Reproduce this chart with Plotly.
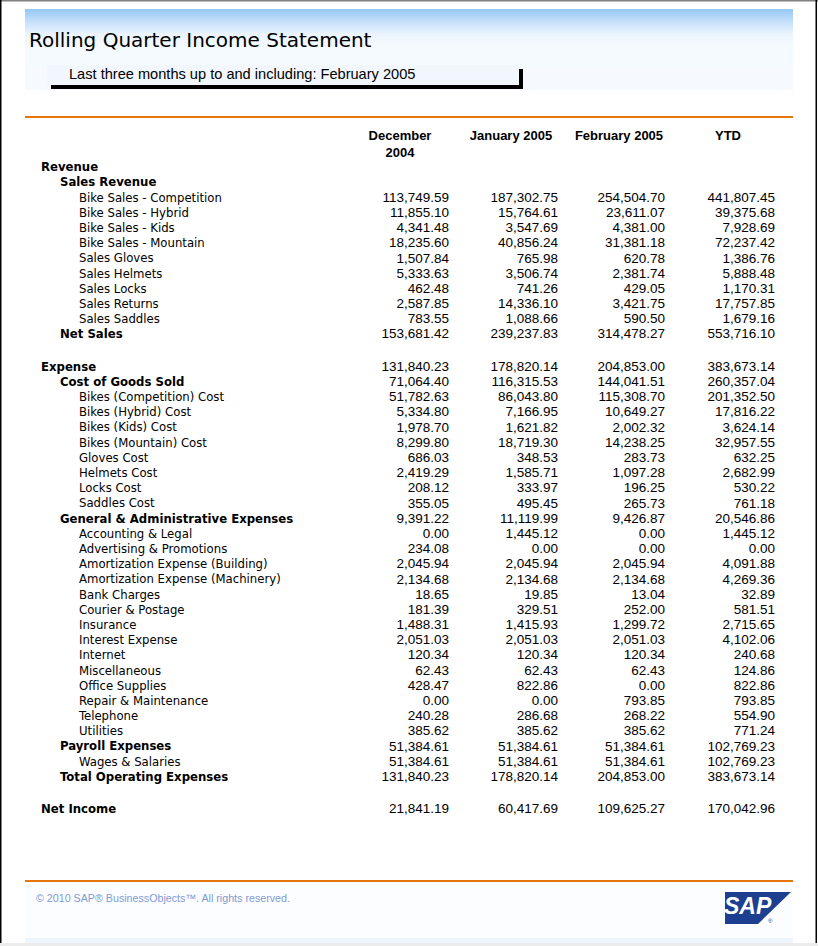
import plotly.graph_objects as go

# ---- report data ----
title = "Rolling Quarter Income Statement"
subtitle = "Last three months up to and including: February 2005"
footer = "© 2010 SAP® BusinessObjects™. All rights reserved."

columns = ["December<br>2004", "January 2005", "February 2005", "YTD"]

row_labels = [
    "Revenue", "Sales Revenue",
    "Bike Sales - Competition", "Bike Sales - Hybrid", "Bike Sales - Kids",
    "Bike Sales - Mountain", "Sales Gloves", "Sales Helmets", "Sales Locks",
    "Sales Returns", "Sales Saddles", "Net Sales",
    "",
    "Expense", "Cost of Goods Sold",
    "Bikes (Competition) Cost", "Bikes (Hybrid) Cost", "Bikes (Kids) Cost",
    "Bikes (Mountain) Cost", "Gloves Cost", "Helmets Cost", "Locks Cost",
    "Saddles Cost",
    "General & Administrative Expenses",
    "Accounting & Legal", "Advertising & Promotions",
    "Amortization Expense (Building)", "Amortization Expense (Machinery)",
    "Bank Charges", "Courier & Postage", "Insurance", "Interest Expense",
    "Internet", "Miscellaneous", "Office Supplies", "Repair & Maintenance",
    "Telephone", "Utilities",
    "Payroll Expenses", "Wages & Salaries", "Total Operating Expenses",
    "",
    "Net Income",
]
# 0 = section, 1 = group (bold), 2 = line item
row_levels = [
    0, 1, 2, 2, 2, 2, 2, 2, 2, 2, 2, 1,
    None,
    0, 1, 2, 2, 2, 2, 2, 2, 2, 2,
    1, 2, 2, 2, 2, 2, 2, 2, 2, 2, 2, 2, 2, 2, 2,
    1, 2, 1,
    None,
    0,
]

dec_2004 = [
    None, None,
    113749.59, 11855.10, 4341.48, 18235.60, 1507.84, 5333.63, 462.48,
    2587.85, 783.55, 153681.42,
    None,
    131840.23, 71064.40,
    51782.63, 5334.80, 1978.70, 8299.80, 686.03, 2419.29, 208.12, 355.05,
    9391.22,
    0.00, 234.08, 2045.94, 2134.68, 18.65, 181.39, 1488.31, 2051.03,
    120.34, 62.43, 428.47, 0.00, 240.28, 385.62,
    51384.61, 51384.61, 131840.23,
    None,
    21841.19,
]
jan_2005 = [
    None, None,
    187302.75, 15764.61, 3547.69, 40856.24, 765.98, 3506.74, 741.26,
    14336.10, 1088.66, 239237.83,
    None,
    178820.14, 116315.53,
    86043.80, 7166.95, 1621.82, 18719.30, 348.53, 1585.71, 333.97, 495.45,
    11119.99,
    1445.12, 0.00, 2045.94, 2134.68, 19.85, 329.51, 1415.93, 2051.03,
    120.34, 62.43, 822.86, 0.00, 286.68, 385.62,
    51384.61, 51384.61, 178820.14,
    None,
    60417.69,
]
feb_2005 = [
    None, None,
    254504.70, 23611.07, 4381.00, 31381.18, 620.78, 2381.74, 429.05,
    3421.75, 590.50, 314478.27,
    None,
    204853.00, 144041.51,
    115308.70, 10649.27, 2002.32, 14238.25, 283.73, 1097.28, 196.25, 265.73,
    9426.87,
    0.00, 0.00, 2045.94, 2134.68, 13.04, 252.00, 1299.72, 2051.03,
    120.34, 62.43, 0.00, 793.85, 268.22, 385.62,
    51384.61, 51384.61, 204853.00,
    None,
    109625.27,
]
ytd = [
    None, None,
    441807.45, 39375.68, 7928.69, 72237.42, 1386.76, 5888.48, 1170.31,
    17757.85, 1679.16, 553716.10,
    None,
    383673.14, 260357.04,
    201352.50, 17816.22, 3624.14, 32957.55, 632.25, 2682.99, 530.22, 761.18,
    20546.86,
    1445.12, 0.00, 4091.88, 4269.36, 32.89, 581.51, 2715.65, 4102.06,
    240.68, 124.86, 822.86, 793.85, 554.90, 771.24,
    102769.23, 102769.23, 383673.14,
    None,
    170042.96,
]

# ---- page geometry (pixels) ----
W, H = 818, 946
ROW_H = 15.19
first_row_y = 168
indent_x = {0: 41, 1: 60, 2: 79}
col_right = [449, 558, 665, 775]
col_center = [400, 511, 619, 728]

LABEL_FONT = "Tahoma, 'DejaVu Sans Condensed', 'DejaVu Sans', sans-serif"
TITLE_FONT = "'DejaVu Sans', sans-serif"
NUM_FONT = "Arial, 'Liberation Sans', sans-serif"

row_y = []
y = first_row_y
for lab in row_labels:
    row_y.append(y)
    y += ROW_H + (2 if lab == "" else 0)

fig = go.Figure()

# labels
for lvl in (0, 1, 2):
    idx = [i for i, l in enumerate(row_levels) if l == lvl]
    txt = [row_labels[i] for i in idx]
    if lvl < 2:
        txt = ["<b>" + t + "</b>" for t in txt]
    fig.add_trace(go.Scatter(
        x=[indent_x[lvl]] * len(idx), y=[row_y[i] for i in idx],
        mode="text", text=txt, textposition="middle right",
        textfont=dict(family=LABEL_FONT, size=13, color="#000000"),
        hoverinfo="skip", showlegend=False,
    ))

# numbers
for col, vals in enumerate([dec_2004, jan_2005, feb_2005, ytd]):
    idx = [i for i, v in enumerate(vals) if v is not None]
    fig.add_trace(go.Scatter(
        x=[col_right[col]] * len(idx), y=[row_y[i] for i in idx],
        mode="text", text=[f"{vals[i]:,.2f}" for i in idx],
        textposition="middle left",
        textfont=dict(family=NUM_FONT, size=13.5, color="#000000"),
        hoverinfo="skip", showlegend=False,
    ))

# column headers
fig.add_trace(go.Scatter(
    x=col_center, y=[130] * 4, mode="text",
    text=["<b>" + c + "</b>" for c in columns], textposition="bottom center",
    textfont=dict(family=NUM_FONT, size=13, color="#000000"),
    hoverinfo="skip", showlegend=False,
))

shapes = []
# page frame
shapes.append(dict(type="rect", x0=0, x1=W, y0=0, y1=1.5, fillcolor="#808080", line_width=0))
shapes.append(dict(type="rect", x0=0, x1=1.5, y0=0, y1=H, fillcolor="#000000", line_width=0))
shapes.append(dict(type="rect", x0=815.5, x1=817, y0=0, y1=H, fillcolor="#000000", line_width=0))

# header band gradient
stops = [(9, (152, 201, 248)), (22, (200, 226, 251)), (34, (236, 245, 254)),
         (46, (245, 250, 255)), (90, (247, 251, 255))]
for (ya, ca), (yb, cb) in zip(stops[:-1], stops[1:]):
    n = int(yb - ya)
    for k in range(n):
        t = k / max(n, 1)
        c = tuple(int(ca[j] + (cb[j] - ca[j]) * t) for j in range(3))
        shapes.append(dict(type="rect", x0=25, x1=793, y0=ya + k, y1=ya + k + 1.05,
                           fillcolor="rgb(%d,%d,%d)" % c, line_width=0, layer="below"))

# subtitle box with shadow
shapes.append(dict(type="rect", x0=47, x1=519, y0=65, y1=85, fillcolor="#f2f7fd", line_width=0, layer="below"))
shapes.append(dict(type="rect", x0=51, x1=523, y0=85, y1=89, fillcolor="#000000", line_width=0))
shapes.append(dict(type="rect", x0=519, x1=523, y0=69, y1=89, fillcolor="#000000", line_width=0))

# orange rules
shapes.append(dict(type="rect", x0=25, x1=793, y0=116, y1=118, fillcolor="#e5760b", line_width=0))
shapes.append(dict(type="rect", x0=25, x1=793, y0=880, y1=882, fillcolor="#e5760b", line_width=0))

# footer background
shapes.append(dict(type="rect", x0=25, x1=793, y0=882, y1=938, fillcolor="#fcfdff", line_width=0, layer="below"))
shapes.append(dict(type="rect", x0=25, x1=793, y0=938, y1=943, fillcolor="#eff5fc", line_width=0, layer="below"))
shapes.append(dict(type="rect", x0=0, x1=W, y0=943, y1=H, fillcolor="#ececec", line_width=0))

# SAP logo
shapes.append(dict(type="path", path="M 725 892 L 791 892 L 758 924 L 725 924 Z",
                   fillcolor="#1c3f90", line_width=0))

annotations = [
    dict(x=27, y=40, text=title, showarrow=False, xanchor="left", yanchor="middle",
         font=dict(family=TITLE_FONT, size=20, color="#000000")),
    dict(x=67, y=74, text=subtitle, showarrow=False, xanchor="left", yanchor="middle",
         font=dict(family=NUM_FONT, size=14.6, color="#000000")),
    dict(x=34, y=898, text=footer, showarrow=False, xanchor="left", yanchor="middle",
         font=dict(family=NUM_FONT, size=10.7, color="#7f9bd3")),
    dict(x=748, y=906, text="<b><i>SAP</i></b>", showarrow=False, xanchor="center", yanchor="middle",
         font=dict(family=NUM_FONT, size=23, color="#ffffff")),
    dict(x=770, y=921, text="®", showarrow=False, xanchor="center", yanchor="middle",
         font=dict(family=NUM_FONT, size=6, color="#1c3f90")),
]

fig.update_layout(
    width=W, height=H,
    margin=dict(l=0, r=0, t=0, b=0),
    paper_bgcolor="#ffffff", plot_bgcolor="#ffffff",
    shapes=shapes, annotations=annotations,
    xaxis=dict(range=[0, W], visible=False, fixedrange=True),
    yaxis=dict(range=[H, 0], visible=False, fixedrange=True),
)

# page body margin removed so the 818x946 figure fills the window
fig.write_html("out.html", config={"displayModeBar": False},
               post_script="document.body.style.margin='0';")
